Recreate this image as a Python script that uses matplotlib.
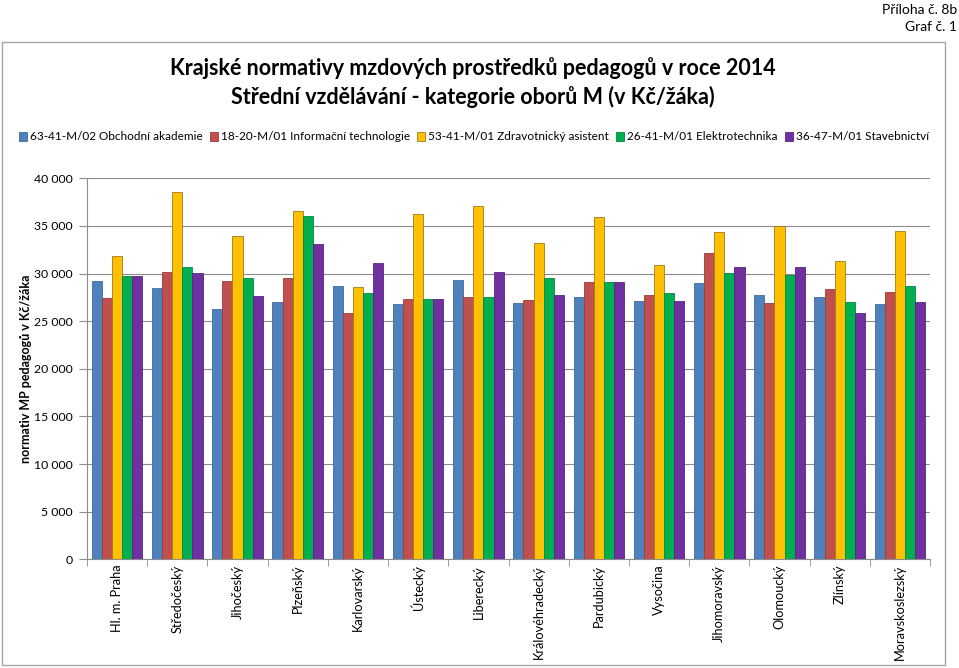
import matplotlib
matplotlib.use("Agg")
import matplotlib.pyplot as plt
import numpy as np
from matplotlib.patches import Rectangle
from matplotlib.ticker import FuncFormatter, FixedLocator

plt.rcParams['font.family'] = ['Lato', 'DejaVu Sans']

# data
regions = ['Hl. m. Praha', 'Středočeský', 'Jihočeský', 'Plzeňský', 'Karlovarský',
           'Ústecký', 'Liberecký', 'Královéhradecký', 'Pardubický', 'Vysočina',
           'Jihomoravský', 'Olomoucký', 'Zlínský', 'Moravskoslezský']
series_names = ['63-41-M/02 Obchodní akademie', '18-20-M/01 Informační technologie',
                '53-41-M/01 Zdravotnický asistent', '26-41-M/01 Elektrotechnika',
                '36-47-M/01 Stavebnictví']
obchodni = [29250, 28520, 26310, 27050, 28730, 26840, 29360, 26870, 27570, 27120, 29010, 27790, 27540, 26800]
informacni = [27470, 30130, 29190, 29570, 25830, 27360, 27570, 27260, 29080, 27720, 32160, 26870, 28350, 28030]
zdravotnicky = [31840, 38600, 33940, 36530, 28590, 36290, 37130, 33240, 35970, 30930, 34330, 34990, 31320, 34440]
elektro = [29740, 30690, 29570, 36010, 27990, 27360, 27570, 29540, 29080, 27960, 30030, 29880, 27010, 28730]
stavebnictvi = [29740, 30100, 27610, 33140, 31110, 27360, 30200, 27720, 29080, 27150, 30690, 30690, 25860, 27050]

colors = ['#4F81BD', '#C0504D', '#FFC000', '#00B050', '#7030A0']
edges = ['#3E6A9E', '#9E3B38', '#9C7A1E', '#008A3E', '#582580']

fig = plt.figure(figsize=(9.59, 6.68), dpi=100)
ax = fig.add_axes([87/959, 1-559.3/668, (930-87)/959, (559.3-178.3)/668])

x = np.arange(len(regions))
w = 0.168
all_series = [obchodni, informacni, zdravotnicky, elektro, stavebnictvi]
for i, vals in enumerate(all_series):
    ax.bar(x + (i - 2) * w, vals, width=w, color=colors[i], edgecolor=edges[i],
           linewidth=0.6, label=series_names[i], zorder=3)

ax.set_xlim(-0.5, len(regions) - 0.5)
ax.set_ylim(0, 40000)
ax.set_yticks(np.arange(0, 40001, 5000))
ax.yaxis.set_major_formatter(FuncFormatter(lambda v, p: f"{int(v):,}".replace(",", " ")))
ax.grid(axis='y', color='#8C8C8C', linewidth=0.8, zorder=0)

ax.set_xticks(x)
ax.set_xticklabels(regions, rotation=90, fontsize=9.2)
ax.tick_params(axis='x', which='major', length=0, pad=4)
ax.xaxis.set_minor_locator(FixedLocator(np.arange(-0.5, len(regions), 1)))
ax.tick_params(axis='x', which='minor', length=5, color='#8C8C8C')
ax.tick_params(axis='y', length=6, color='#8C8C8C', labelsize=8.8, pad=4)

for s in ['top', 'right']:
    ax.spines[s].set_visible(False)
for s in ['left', 'bottom']:
    ax.spines[s].set_color('#8C8C8C')

ax.set_ylabel('normativ MP pedagogů v Kč/žáka', fontsize=9, fontweight='bold', labelpad=2)

# outer chart frame
fig.patches.append(Rectangle((2/959, 3/668), 943/959, 623/668, transform=fig.transFigure,
                             fill=False, edgecolor='#A6A6A6', linewidth=1.0))

fig.text(473/959, 1-68/668, 'Krajské normativy mzdových prostředků pedagogů v roce 2014',
         ha='center', va='center', fontsize=15.5, fontweight='bold')
fig.text(473/959, 1-97/668, 'Střední vzdělávání - kategorie oborů M (v Kč/žáka)',
         ha='center', va='center', fontsize=15.5, fontweight='bold')

fig.text(957/959, 1-10/668, 'Příloha č. 8b', ha='right', va='center', fontsize=10)
fig.text(957/959, 1-27/668, 'Graf č. 1', ha='right', va='center', fontsize=10)

fig.legend(loc='center', bbox_to_anchor=(474/959, 1-137/668), ncol=5, frameon=False,
           fontsize=8.5, handlelength=0.7, handleheight=0.7, handletextpad=0.25,
           columnspacing=0.6, borderaxespad=0, borderpad=0)

fig.savefig('out.png', dpi=100)
